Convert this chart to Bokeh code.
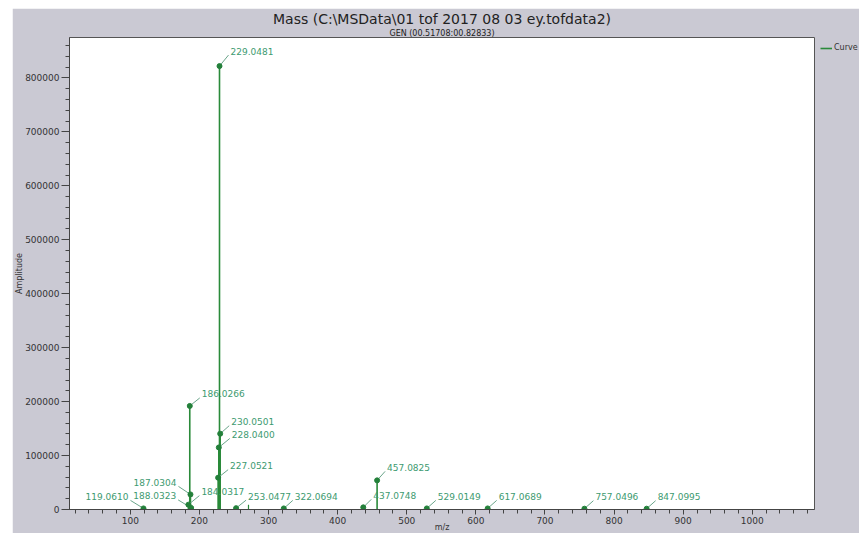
from bokeh.plotting import figure
from bokeh.models import (ColumnDataSource, SingleIntervalTicker, BasicTickFormatter,
                          Title, Legend, LegendItem, Range1d)
from bokeh.embed import file_html
from bokeh.resources import INLINE

# ---- data ----
mz = [119.0610, 184.0317, 186.0266, 187.0304, 188.0323, 227.0521, 228.0400,
      229.0481, 230.0501, 253.0477, 322.0694, 437.0748, 457.0825, 529.0149,
      617.0689, 757.0496, 847.0995]
amplitude = [2000, 9000, 192000, 28000, 3000, 59000, 115000,
             822000, 140500, 2500, 2000, 4000, 54000, 2000,
             2000, 1500, 1500]
peak_labels = ["119.0610", "184.0317", "186.0266", "187.0304", "188.0323",
               "227.0521", "228.0400", "229.0481", "230.0501", "253.0477",
               "322.0694", "437.0748", "457.0825", "529.0149", "617.0689",
               "757.0496", "847.0995"]
extra_mz = [271.0]
extra_amp = [9000]

# ---- label placement (pixels, style only) ----
label_dx = [-15, 13, 12, -14, -15, 12, 13, 11, 11, 12, 11, 10, 10, 11, 11, 11, 11]
label_dy = [12, 13, 12, 12, 12, 12, 13, 15, 12, 12, 12, 12, 13, 12, 12, 12, 12]

X0, X1 = 12, 1090
Y0, Y1 = 0, 875000
FRAME_W, FRAME_H = 745, 472
ux = (X1 - X0) / FRAME_W
uy = (Y1 - Y0) / FRAME_H

align = ["right" if d < 0 else "left" for d in label_dx]
lead_x1 = [m + ((d + 2) if d < 0 else (d - 2)) * ux for m, d in zip(mz, label_dx)]
lead_y1 = [a + (dy - 4) * uy for a, dy in zip(amplitude, label_dy)]

src = ColumnDataSource(dict(mz=mz, amp=amplitude, zero=[0] * len(mz), lab=peak_labels,
                            dx=label_dx, ndy=[-d for d in label_dy], align=align,
                            lx=lead_x1, ly=lead_y1))
src2 = ColumnDataSource(dict(mz=extra_mz, amp=extra_amp, zero=[0] * len(extra_mz)))

FONT = "DejaVu Sans"
GREEN = "#2a8a3a"
LABEL_GREEN = "#3d9a70"
GRAY_BG = "#cac9d3"

p = figure(frame_width=FRAME_W, frame_height=FRAME_H, output_backend="svg", toolbar_location=None,
           x_range=Range1d(X0, X1), y_range=Range1d(Y0, Y1),
           title_location=None,
           min_border_left=52, min_border_right=39, min_border_top=29, min_border_bottom=23)
p.margin = (8, 0, 0, 12)
p.background_fill_color = "white"
p.border_fill_color = GRAY_BG
p.outline_line_color = "#555555"
p.xgrid.visible = False
p.ygrid.visible = False

p.add_layout(Title(text="GEN (00.51708:00.82833)", align="center", text_font=FONT,
                   text_font_size="8px", text_font_style="normal", text_color="#222222",
                   standoff=0), "above")
p.add_layout(Title(text="Mass (C:\\MSData\\01 tof 2017 08 03 ey.tofdata2)", align="center",
                   text_font=FONT, text_font_size="14px", text_font_style="normal",
                   text_color="#222222", standoff=0), "above")

# axes
p.xaxis.ticker = SingleIntervalTicker(interval=100, num_minor_ticks=5)
p.yaxis.ticker = SingleIntervalTicker(interval=100000, num_minor_ticks=5)
p.yaxis.formatter = BasicTickFormatter(use_scientific=False)
p.xaxis.axis_label = "m/z"
p.yaxis.axis_label = "Amplitude"
for ax in (p.xaxis, p.yaxis):
    ax.axis_line_color = "#444444"
    ax.major_tick_line_color = "#444444"
    ax.minor_tick_line_color = "#444444"
    ax.major_tick_in = 0
    ax.minor_tick_in = 0
    ax.major_label_text_font = FONT
    ax.major_label_text_font_size = "9px"
    ax.major_label_text_color = "#333333"
    ax.axis_label_text_font = FONT
    ax.axis_label_text_font_size = "8px"
    ax.axis_label_text_font_style = "normal"
    ax.axis_label_text_color = "#333333"
    ax.major_label_standoff = 2
p.xaxis.major_tick_out = 5
p.xaxis.minor_tick_out = 4
p.yaxis.major_tick_out = 8
p.yaxis.minor_tick_out = 4
p.xaxis.axis_label_standoff = -4
p.yaxis.axis_label_standoff = -2

# stems
stems = p.segment(x0="mz", y0="zero", x1="mz", y1="amp", source=src, line_color=GREEN, line_width=1.6)
p.segment(x0="mz", y0="zero", x1="mz", y1="amp", source=src2, line_color=GREEN, line_width=1.2)
# leaders
p.segment(x0="mz", y0="amp", x1="lx", y1="ly", source=src, line_color="#6aa58a", line_width=1)
# peak dots
p.scatter(x="mz", y="amp", source=src, size=5, color="#23803a")
# labels
p.text(x="mz", y="amp", text="lab", x_offset="dx", y_offset="ndy", text_align="align",
       text_baseline="middle", source=src, text_font_size="9px", text_color=LABEL_GREEN,
       text_font={"value": FONT})

legend = Legend(items=[LegendItem(label="Curve", renderers=[stems])], location="top_left",
                label_text_font=FONT, label_text_font_size="8px", label_text_color="#333333",
                glyph_width=12, glyph_height=8, label_standoff=2, padding=0, margin=6,
                spacing=0, border_line_alpha=0, background_fill_alpha=0)
p.add_layout(legend, "right")

open("out.html", "w").write(file_html(p, INLINE))
